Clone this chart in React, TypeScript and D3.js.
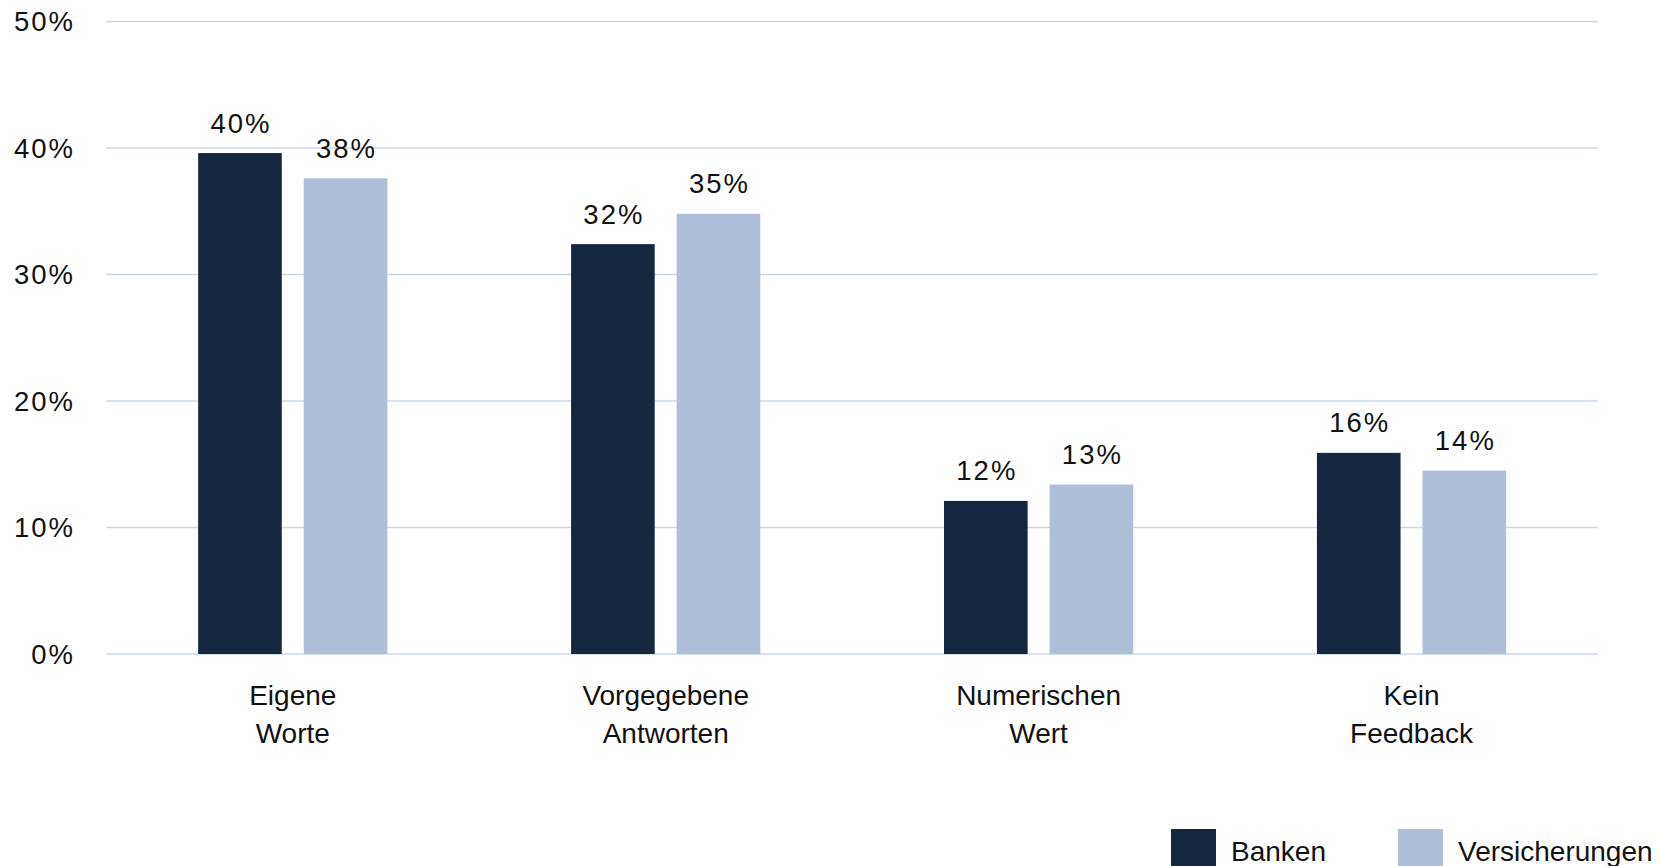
import React from "react";
import * as d3 from "d3";

const categories: string[][] = [
  ["Eigene", "Worte"],
  ["Vorgegebene", "Antworten"],
  ["Numerischen", "Wert"],
  ["Kein", "Feedback"],
];
const seriesNames = ["Banken", "Versicherungen"];
const banken = [0.396, 0.324, 0.121, 0.159];
const versicherungen = [0.376, 0.348, 0.134, 0.145];
const bankenLabels = ["40%", "32%", "12%", "16%"];
const versicherungenLabels = ["38%", "35%", "13%", "14%"];
const yTicks = [0, 0.1, 0.2, 0.3, 0.4, 0.5];
const colors = ["#15263F", "#ADBED6"];

const W = 1660;
const H = 866;

export default function App() {
  const x = d3
    .scaleBand<number>()
    .domain(categories.map((_, i) => i))
    .range([106.3, 1598])
    .padding(0);
  const inner = d3
    .scaleBand<number>()
    .domain([0, 1])
    .range([0, x.bandwidth()])
    .paddingInner(0.208)
    .paddingOuter(0.87);
  const y = d3.scaleLinear().domain([0, 0.5]).range([654, 21.5]);
  const fmt = d3.format(".0%");
  const series = [banken, versicherungen];
  const labels = [bankenLabels, versicherungenLabels];
  const numFont = "'Liberation Sans', Arial, sans-serif";

  return (
    <div style={{ position: "absolute", left: 0, top: 0, width: W, height: H, overflow: "hidden", background: "#fff" }}>
      <svg width={W} height={H} style={{ display: "block" }}>
        {yTicks.map((t) => (
          <g key={t}>
            <line x1={x.range()[0]} x2={x.range()[1]} y1={y(t)} y2={y(t)} stroke="#CCD8EA" strokeWidth={1.6} />
            <text x={75} y={y(t)} dy="0.35em" textAnchor="end" fontFamily={numFont} fontSize={27.5} letterSpacing={2} fill="#111">
              {fmt(t)}
            </text>
          </g>
        ))}
        {categories.map((c, i) => (
          <g key={i} transform={`translate(${x(i)},0)`}>
            {series.map((s, j) => (
              <g key={j}>
                <rect x={inner(j)} y={y(s[i])} width={inner.bandwidth()} height={y(0) - y(s[i])} fill={colors[j]} />
                <text
                  x={(inner(j) as number) + inner.bandwidth() / 2 + 1}
                  y={y(s[i]) - 20.5}
                  textAnchor="middle"
                  fontFamily={numFont}
                  fontSize={27.5}
                  letterSpacing={2}
                  fill="#111"
                >
                  {labels[j][i]}
                </text>
              </g>
            ))}
            {c.map((line, k) => (
              <text
                key={k}
                x={x.bandwidth() / 2}
                y={705 + k * 38}
                textAnchor="middle"
                fontFamily={numFont}
                fontSize={28}
                fill="#111"
              >
                {line}
              </text>
            ))}
          </g>
        ))}
        {seriesNames.map((n, j) => {
          const lx = [1171, 1398][j];
          return (
            <g key={n}>
              <rect x={lx} y={829} width={45} height={45} fill={colors[j]} />
              <text x={lx + 60} y={861} fontFamily={numFont} fontSize={28} fill="#111">
                {n}
              </text>
            </g>
          );
        })}
      </svg>
    </div>
  );
}
